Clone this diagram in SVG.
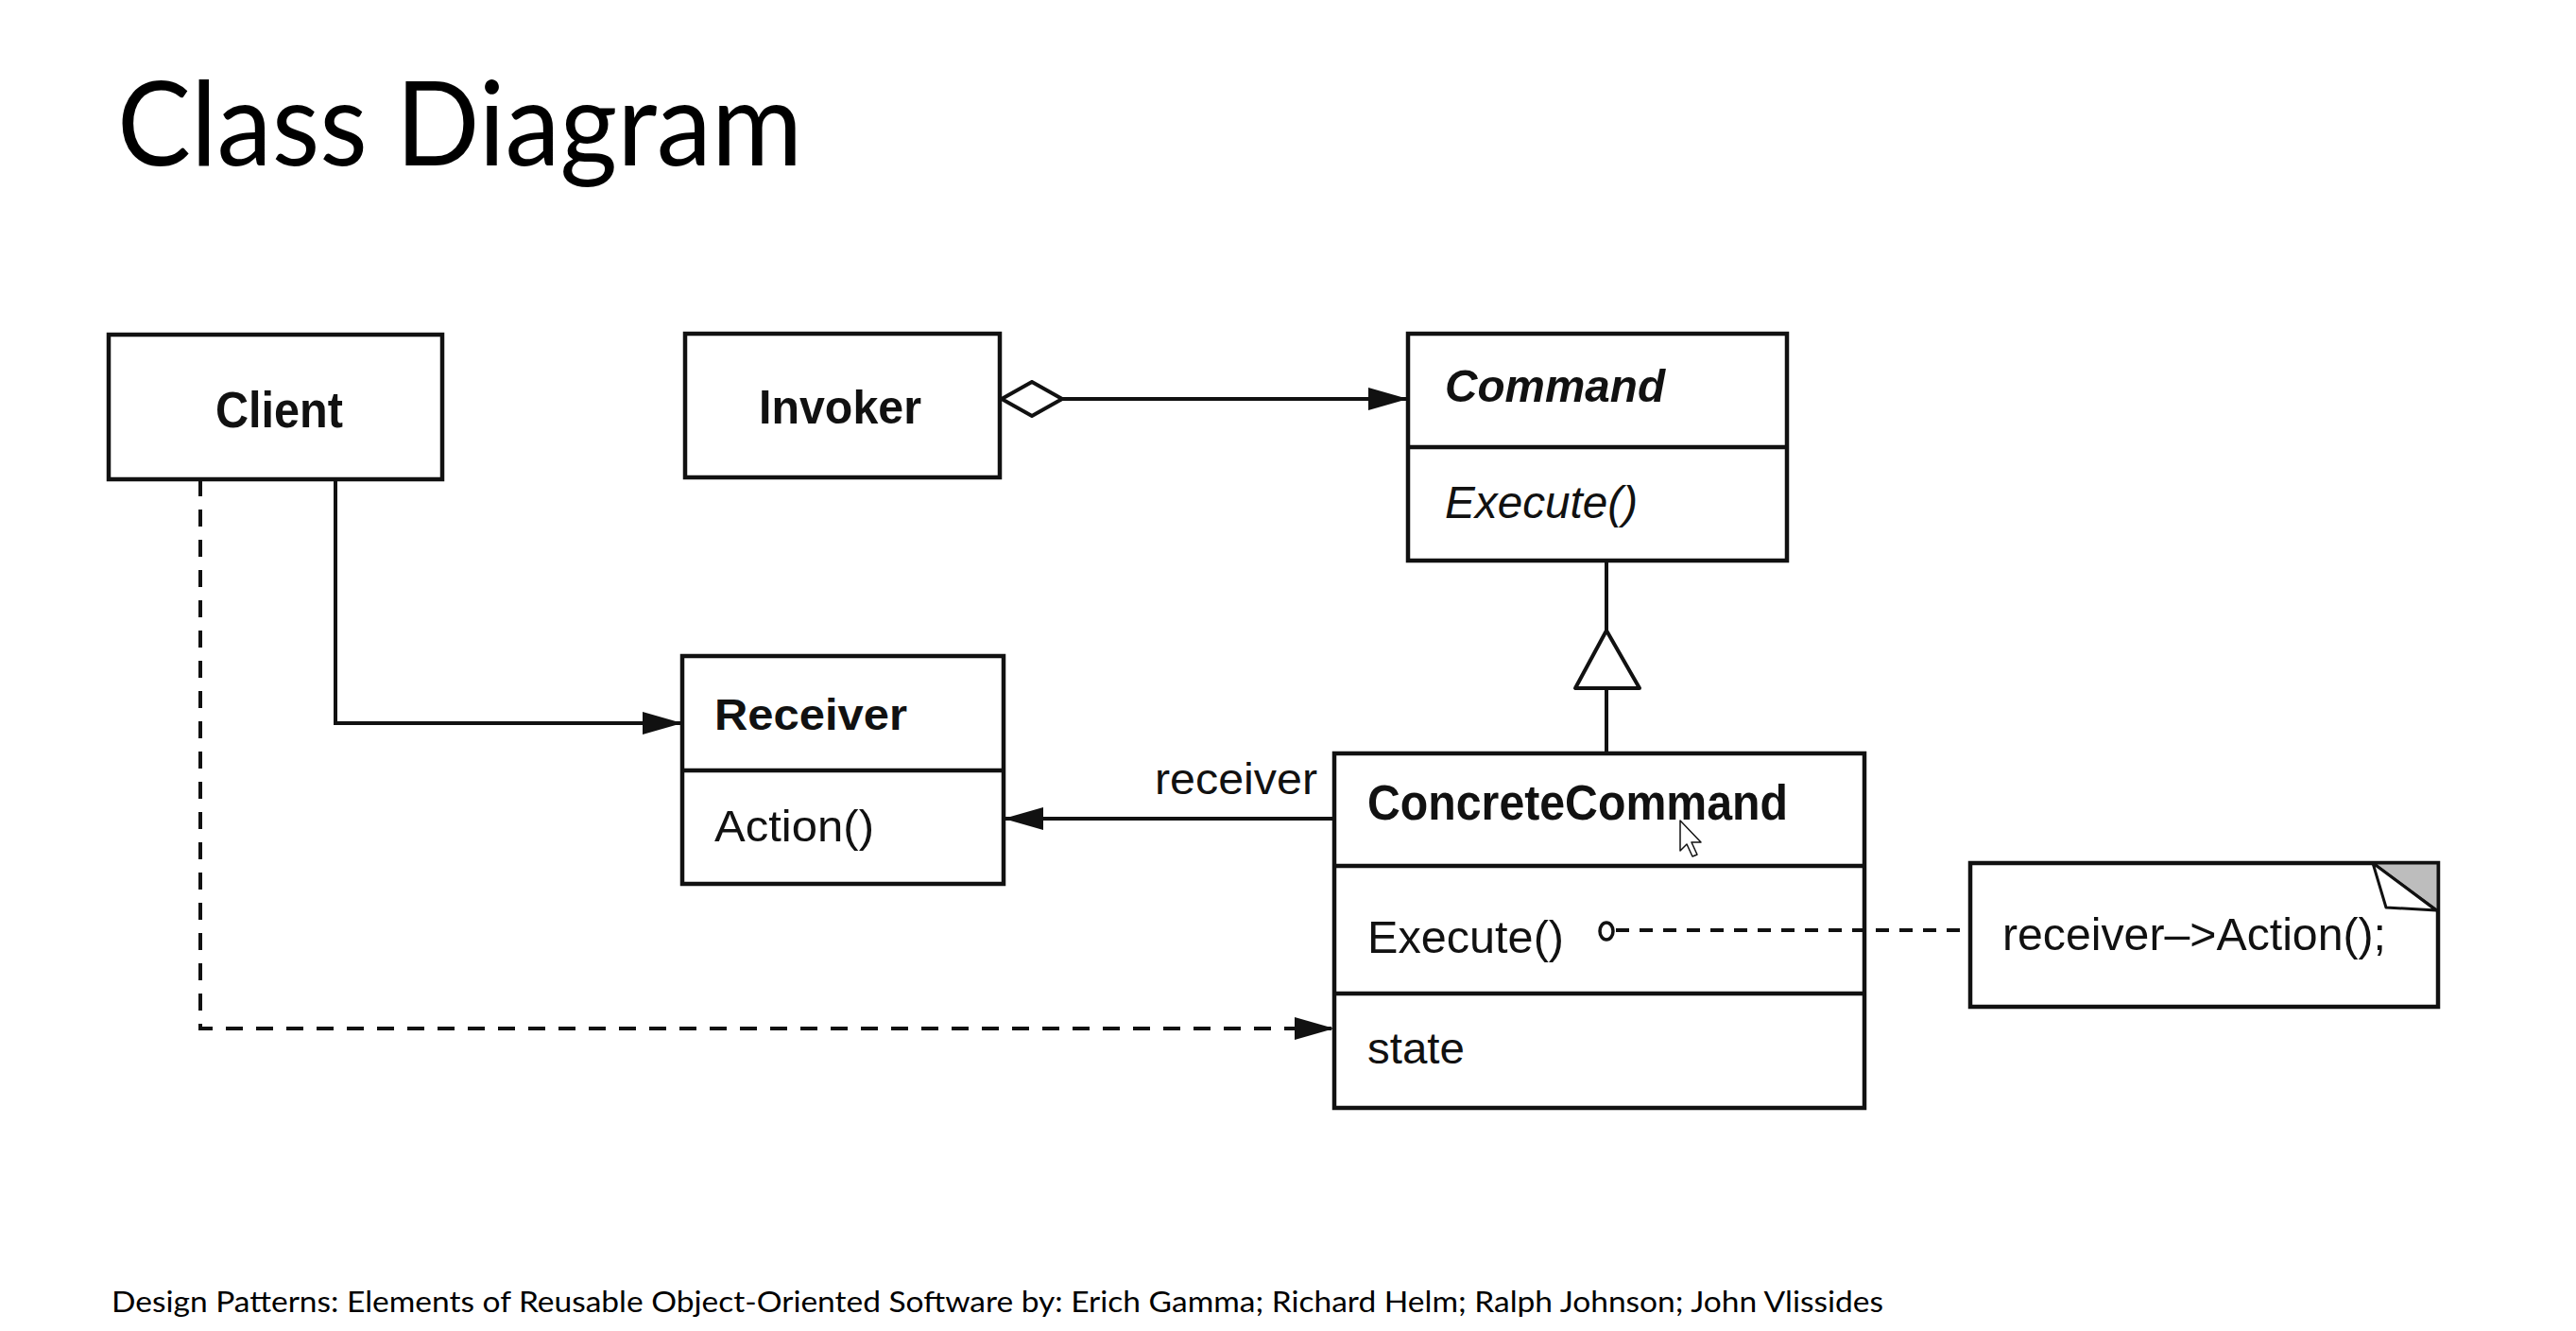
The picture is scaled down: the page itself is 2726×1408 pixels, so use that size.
<svg xmlns="http://www.w3.org/2000/svg" width="2726" height="1408" viewBox="0 0 2726 1408">
<defs>
<style>
.box{fill:#fff;stroke:#111;stroke-width:4.5}
.div{stroke:#111;stroke-width:4.5}
.ln{fill:none;stroke:#111;stroke-width:4}
.dash{fill:none;stroke:#111;stroke-width:4;stroke-dasharray:18 14}
.dash2{fill:none;stroke:#111;stroke-width:4;stroke-dasharray:14 11}
.t{font-family:"Liberation Sans",Arial,sans-serif;fill:#111}
.b{font-weight:bold}
.i{font-style:italic}
.title{font-family:Lato,"Open Sans",sans-serif;fill:#000}
</style>
<marker id="arr" markerUnits="userSpaceOnUse" markerWidth="44" markerHeight="26" refX="42" refY="13" orient="auto">
<path d="M0,1 L42,13 L0,25 Z" fill="#111"/>
</marker>
<marker id="dia" markerUnits="userSpaceOnUse" markerWidth="66" markerHeight="40" refX="1" refY="20" orient="auto">
<path d="M1,20 L33,2 L65,20 L33,38 Z" fill="#fff" stroke="#111" stroke-width="4"/>
</marker>
</defs>
<rect width="2726" height="1408" fill="#fff"/>

<text class="title" x="124" y="175" font-size="124" textLength="725" lengthAdjust="spacingAndGlyphs">Class Diagram</text>

<g id="client">
<rect class="box" x="115" y="354" width="353" height="153"/>
<text class="t b" x="228" y="452" font-size="54" textLength="135" lengthAdjust="spacingAndGlyphs">Client</text>
</g>

<g id="invoker">
<rect class="box" x="725" y="353" width="333" height="152"/>
<text class="t b" x="803" y="448" font-size="50" textLength="172" lengthAdjust="spacingAndGlyphs">Invoker</text>
</g>

<g id="command">
<rect class="box" x="1490" y="353" width="401" height="240"/>
<line class="div" x1="1490" y1="473" x2="1891" y2="473"/>
<text class="t b i" x="1529" y="425" font-size="49" textLength="233" lengthAdjust="spacingAndGlyphs">Command</text>
<text class="t i" x="1529" y="548" font-size="48" textLength="204" lengthAdjust="spacingAndGlyphs">Execute()</text>
</g>

<g id="receiver">
<rect class="box" x="722" y="694" width="340" height="241"/>
<line class="div" x1="722" y1="815" x2="1062" y2="815"/>
<text class="t b" x="756" y="772" font-size="47" textLength="204" lengthAdjust="spacingAndGlyphs">Receiver</text>
<text class="t" x="756" y="890" font-size="47" textLength="169" lengthAdjust="spacingAndGlyphs">Action()</text>
</g>

<g id="concretecommand">
<rect class="box" x="1412" y="797" width="561" height="375"/>
<line class="div" x1="1412" y1="916" x2="1973" y2="916"/>
<line class="div" x1="1412" y1="1051" x2="1973" y2="1051"/>
<text class="t b" x="1447" y="867" font-size="51" textLength="445" lengthAdjust="spacingAndGlyphs">ConcreteCommand</text>
<text class="t" x="1447" y="1008" font-size="48" textLength="208" lengthAdjust="spacingAndGlyphs">Execute()</text>
<text class="t" x="1447" y="1125" font-size="47" textLength="103" lengthAdjust="spacingAndGlyphs">state</text>
</g>

<g id="note">
<rect class="box" x="2085" y="913" width="495" height="152"/>
<polygon points="2511,913 2580,913 2580,964" fill="#bdbdbd" stroke="#111" stroke-width="3"/>
<polygon points="2511,913 2525,960 2578,963" fill="#fff" stroke="#111" stroke-width="3" stroke-linejoin="round"/>
<text class="t" x="2119" y="1005" font-size="48" textLength="406" lengthAdjust="spacingAndGlyphs">receiver–&gt;Action();</text>
</g>

<g id="connectors">
<path class="ln" d="M1060,422 L1490,422" marker-start="url(#dia)" marker-end="url(#arr)"/>
<path class="ln" d="M1700,593 L1700,667"/>
<path class="ln" d="M1700,728 L1700,797"/>
<polygon points="1700,667 1667,728 1735,728" fill="#fff" stroke="#111" stroke-width="4" stroke-linejoin="round"/>
<path class="ln" d="M355,507 L355,765 L722,765" marker-end="url(#arr)"/>
<path class="ln" d="M1412,866 L1062,866" marker-end="url(#arr)"/>
<text class="t" x="1222" y="840" font-size="47" textLength="172" lengthAdjust="spacingAndGlyphs">receiver</text>
<path class="dash" d="M212,507 L212,1088 L1412,1088" marker-end="url(#arr)"/>
<path class="dash2" d="M1710,984 L2085,984"/>
<ellipse cx="1700" cy="985" rx="7" ry="9" fill="#fff" stroke="#111" stroke-width="3.5"/>
</g>

<path d="M1778,868 L1778,900 L1785,893 L1791,906 L1796,904 L1790,891 L1800,891 Z" fill="#fff" stroke="#111" stroke-width="1.5" stroke-linejoin="round"/>

<text class="title" x="118" y="1388" font-size="31" textLength="1875" lengthAdjust="spacingAndGlyphs">Design Patterns: Elements of Reusable Object-Oriented Software by: Erich Gamma; Richard Helm; Ralph Johnson; John Vlissides</text>
</svg>
